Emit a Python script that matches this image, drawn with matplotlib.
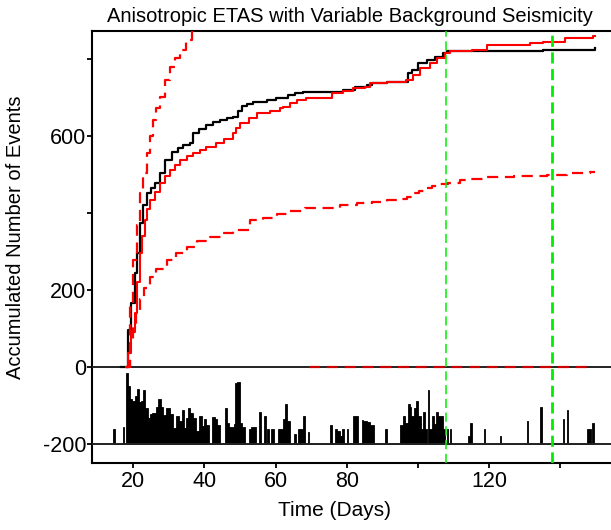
import matplotlib
matplotlib.use("Agg")
import matplotlib.pyplot as plt

plt.rcParams['font.family'] = ['Liberation Sans', 'DejaVu Sans']

# ---------------- data ----------------
title = "Anisotropic ETAS with Variable Background Seismicity"
xlabel = "Time (Days)"
ylabel = "Accumulated Number of Events"

xticks = [20, 40, 60, 80, 100, 120, 140]
xticklabels = ["20", "40", "60", "80", "", "120", ""]
yticks = [-200, 0, 200, 400, 600, 800]
yticklabels = ["-200", "0", "200", "", "600", ""]

# observed cumulative number (black)
obs_t = [16.5, 18.1, 18.6, 19.5, 20.5, 21.1, 21.9, 22.8, 23.8, 25.0, 26.1, 27.5, 28.9, 30.8,
         32.5, 34.0, 35.9, 36.9, 38.5, 40.6, 42.5, 44.4, 46.5, 48.1, 49.5, 50.5, 52.0, 53.7,
         57.5, 60.0, 63.6, 65.5, 67.8, 76.2, 79.0, 82.3, 85.6, 87.0, 91.2, 95.9, 97.3, 98.3,
         100.1, 102.5, 104.8, 107.1, 108.1, 119.4, 135.3, 149.8]
obs_n = [0, 0, 95, 165, 243, 295, 373, 420, 451, 465, 477, 503, 537, 559,
         568, 576, 581, 607, 618, 628, 636, 641, 646, 650, 665, 678, 684, 689,
         693, 699, 708, 711, 715, 715, 721, 728, 734, 739, 741, 741, 763, 771,
         790, 797, 806, 817, 821, 822, 825, 829]

# model expectation (red solid)
mod_t = [18.1, 18.6, 19.5, 20.5, 21.2, 21.9, 22.6, 23.3, 24.0, 24.7, 26.0, 27.5, 29.0, 30.3,
         31.8, 33.1, 35.0, 36.9, 38.8, 40.6, 43.4, 45.5, 48.1, 49.0, 50.0, 52.5, 54.7, 58.4,
         61.2, 62.2, 64.0, 66.0, 68.7, 76.0, 79.0, 81.8, 85.1, 86.5, 91.2, 96.8, 98.7, 100.6,
         103.4, 105.3, 107.6, 109.0, 115.1, 119.4, 131.5, 135.3, 141.3, 149.3, 149.8]
mod_n = [0, 36, 90, 140, 220, 295, 340, 381, 410, 433, 455, 477, 495, 511,
         525, 537, 547, 555, 564, 572, 581, 592, 607, 620, 633, 648, 659, 665,
         672, 676, 685, 695, 700, 711, 718, 724, 728, 737, 741, 747, 758, 776,
         790, 804, 815, 821, 825, 836, 841, 845, 854, 860, 860]

# upper bound (red dashed)
up_t = [18.1, 19.1, 20.0, 21.0, 21.9, 22.8, 23.8, 24.7, 25.6, 26.5, 27.5, 28.9, 30.3, 31.7,
        33.1, 34.7, 36.4, 38.0]
up_n = [0, 166, 277, 370, 451, 505, 555, 600, 641, 672, 702, 745, 780, 803,
        823, 850, 875, 900]

# lower bound (red dashed)
lo_t = [18.1, 19.0, 20.0, 20.9, 22.0, 23.0, 24.7, 26.5, 29.4, 32.0, 35.0, 38.0, 41.6, 45.0,
        48.1, 52.8, 56.6, 60.3, 64.0, 68.3, 73.5, 78.1, 82.8, 87.0, 91.3, 95.5, 97.0, 98.7,
        100.3, 102.0, 104.0, 106.2, 108.5, 111.8, 115.0, 119.4, 126.9, 136.2, 142.0, 148.4, 149.8]
lo_n = [0, 60, 105, 140, 175, 205, 234, 255, 277, 295, 312, 326, 338, 347,
        355, 381, 388, 397, 406, 412, 414, 420, 425, 429, 433, 436, 442, 451,
        458, 464, 470, 475, 479, 485, 489, 494, 497, 498, 503, 507, 507]

# lower bound of second interval (red dashed at zero)
zero_t = [69.4, 148.7]
zero_n = [0, 0]

# vertical markers (green dashed)
mark_thin = 107.9
mark_thick = 137.7

# event activity strip (bars above the -200 base line)
hist_left = [14.4, 17.05, 18.0, 18.5, 19.0, 19.7, 20.4, 21.0, 21.6, 22.2, 22.8, 23.4, 24.1, 24.7,
             25.3, 26.3, 27.1, 27.7, 28.3, 29.2, 30.4, 31.2, 32.0, 33.0, 33.6, 34.2, 34.9, 35.5,
             36.1, 36.9, 37.7, 38.5, 39.3, 39.9, 40.6, 42.2, 43.0, 43.6, 45.8, 46.3, 46.9, 48.3,
             48.7, 49.3, 50.1, 50.7, 52.6, 53.2, 55.4, 56.8, 57.6, 58.7, 60.7, 62.1, 62.7, 63.2,
             65.2, 66.4, 67.8, 69.2, 75.4, 76.7, 77.2, 78.2, 78.8, 80.0, 81.7, 84.3, 84.7, 85.7,
             86.6, 90.8, 95.1, 95.9, 96.5, 97.1, 97.7, 98.2, 98.8, 99.4, 100.0, 100.8, 101.4, 102.0,
             102.8, 103.2, 103.9, 104.5, 105.1, 105.7, 107.1, 108.1, 109.1, 114.0, 114.8, 118.5,
             123.0, 130.7, 134.4, 140.7, 141.9, 147.6, 149.0]
hist_right = [14.8, 17.35, 18.5, 19.0, 19.7, 20.4, 21.0, 21.6, 22.2, 22.8, 23.4, 24.1, 24.7, 25.3,
              26.3, 27.1, 27.7, 28.3, 29.2, 30.4, 31.2, 32.0, 33.0, 33.6, 34.2, 34.9, 35.5, 36.1,
              36.9, 37.7, 38.5, 39.3, 39.9, 40.6, 41.2, 43.0, 43.6, 44.3, 46.3, 46.9, 48.3, 48.7,
              49.3, 50.1, 50.7, 51.5, 53.2, 54.4, 55.8, 57.2, 58.1, 59.5, 62.1, 62.7, 63.2, 64.0,
              65.8, 67.8, 68.2, 69.5, 75.8, 77.2, 78.2, 78.8, 79.2, 80.35, 83.1, 84.7, 85.7, 86.6,
              87.8, 91.2, 95.9, 96.5, 97.1, 97.7, 98.2, 98.8, 99.4, 100.0, 100.8, 101.4, 102.0, 102.6,
              103.2, 103.9, 104.5, 105.1, 105.7, 107.1, 107.7, 108.5, 109.45, 114.6, 115.15, 118.9,
              123.4, 131.1, 134.8, 141.1, 142.3, 148.6, 149.4]
hist_height = [37, 43, 183, 150, 117, 112, 125, 143, 108, 112, 140, 92, 67, 77,
               79, 96, 115, 96, 75, 92, 77, 40, 73, 58, 87, 42, 67, 92,
               79, 67, 33, 73, 46, 65, 48, 70, 65, 48, 92, 54, 43, 50,
               158, 160, 54, 43, 37, 43, 83, 73, 37, 37, 37, 65, 104, 58,
               25, 37, 73, 31, 48, 37, 32, 21, 37, 37, 73, 62, 58, 57,
               48, 37, 48, 73, 54, 104, 96, 71, 92, 110, 71, 37, 82, 37,
               140, 37, 73, 50, 82, 71, 37, 37, 37, 21, 54, 37,
               21, 58, 96, 65, 87, 37, 54]
hist_base = -200

# ---------------- figure ----------------
W, H = 611, 530
fig = plt.figure(figsize=(W / 100, H / 100), dpi=100)
ax = fig.add_axes([92.3 / W, 1 - 463.3 / H, 1 - 92.3 / W, (463.3 - 30.7) / H])

ax.set_xlim(8.5, 154.3)
ax.set_ylim(-251, 874)

# activity strip drawn as one outline polygon (no seams between adjacent bins)
px, py = [hist_left[0]], [hist_base]
for l, r, h in zip(hist_left, hist_right, hist_height):
    px += [l, l, r, r]
    py += [hist_base, hist_base + h, hist_base + h, hist_base]
ax.fill(px, py, facecolor='black', edgecolor='black', linewidth=0.6, zorder=2)

# reference lines at 0 and -200
ax.axhline(0, color='#222222', lw=1.4, zorder=3)
ax.axhline(hist_base, color='#222222', lw=1.4, zorder=3)

# curves
ax.plot(obs_t, obs_n, color='black', lw=1.6, drawstyle='steps-post', zorder=4)
ax.plot(mod_t, mod_n, color='#ff0000', lw=1.5, drawstyle='steps-post', zorder=5)
ax.plot(up_t, up_n, color='#ff0000', lw=1.6, drawstyle='steps-post',
        dashes=(5, 3), zorder=5)
ax.plot(lo_t, lo_n, color='#ff0000', lw=1.6, drawstyle='steps-post',
        dashes=(5, 3), zorder=5)
ax.plot(zero_t, zero_n, color='#cc0000', lw=1.6, dashes=(5, 3), zorder=6)

# green markers
ax.axvline(mark_thin, color='#00ee00', lw=1.1, dashes=(6, 3), zorder=7)
ax.axvline(mark_thick, color='#00ee00', lw=2.0, dashes=(4, 2), zorder=7)

# axes styling
for s in ['left', 'bottom', 'top']:
    ax.spines[s].set_linewidth(1.5)
    ax.spines[s].set_color('black')
ax.spines['right'].set_visible(False)

ax.set_xticks(xticks)
ax.set_xticklabels(xticklabels)
ax.set_yticks(yticks)
ax.set_yticklabels(yticklabels)
ax.tick_params(axis='both', which='major', labelsize=15.5, length=3.5, width=1.3,
               direction='out', colors='black')
ax.tick_params(axis='y', pad=1)
ax.tick_params(axis='x', pad=2)

fig.text(350 / W, 1 - 17 / H, title, ha='center', va='center', fontsize=14.5)
fig.text(335 / W, 1 - 511 / H, xlabel, ha='center', va='center', fontsize=15)
fig.text(15.5 / W, 1 - 237 / H, ylabel, ha='center', va='center', rotation=90, fontsize=14.5)

fig.savefig('out.png', dpi=100)
